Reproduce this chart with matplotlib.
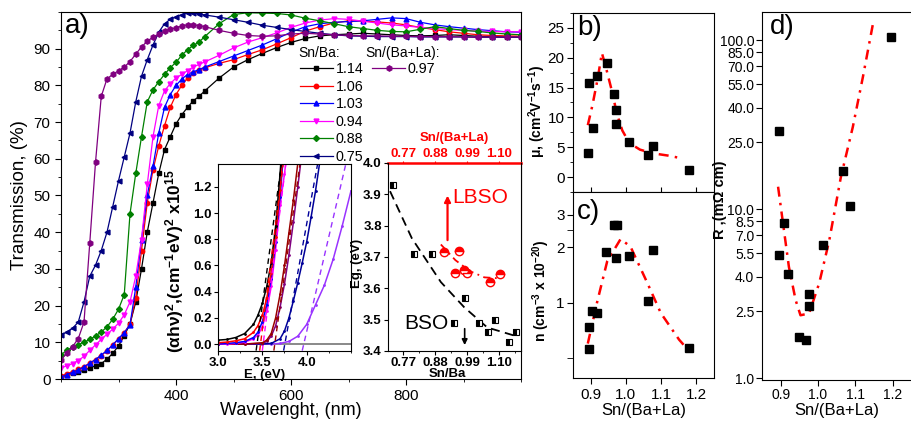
import matplotlib
matplotlib.use("Agg")
import matplotlib.pyplot as plt
from matplotlib.ticker import MultipleLocator, FixedLocator, FormatStrFormatter, NullFormatter, NullLocator

plt.rcParams['font.family'] = ['Liberation Sans', 'DejaVu Sans']
plt.rcParams['mathtext.fontset'] = 'custom'
plt.rcParams['mathtext.rm'] = 'Liberation Sans'
plt.rcParams['mathtext.bf'] = 'Liberation Sans:bold'
plt.rcParams['mathtext.default'] = 'bf'

# ---------------- a) transmission spectra ----------------
wavelength = [200, 210, 220, 230, 240, 250, 260, 270, 280, 290, 300, 310, 320, 330, 340,
              350, 360, 370, 380, 390, 400, 410, 420, 430, 440, 450,
              475, 500, 525, 550, 575, 600, 625, 650, 675, 700, 725, 750, 775, 800,
              825, 850, 875, 900, 925, 950, 975, 1000]
t_114 = [0.5, 1.1, 1.6, 1.9, 2.4, 3.0, 3.6, 4.2, 5.4, 7.0, 9.0, 11.8, 15.0, 21, 30,
         40, 48, 56, 62.5, 66, 69.5, 72, 74, 75.8, 77, 78.5,
         82, 85, 87, 88.7, 90.3, 91.7, 92.8, 93.5, 93.8, 94.0, 94.2, 94.0, 93.8, 93.6,
         93.5, 93.6, 93.8, 93.6, 93.4, 93.3, 93.2, 93.2]
t_106 = [0.8, 1.4, 2.0, 2.6, 3.4, 4.3, 5.3, 6.4, 7.7, 9.3, 10.9, 12.6, 15, 22, 35,
         48, 57, 63.5, 69, 74, 77.5, 80, 82, 83.3, 84.2, 84.8,
         86, 87, 88.4, 89.7, 91.3, 93, 94.8, 96, 97, 97.6, 97.5, 97.3, 97, 96.5,
         95.8, 95.2, 94.6, 94.2, 93.8, 93.6, 93.5, 93.4]
t_103 = [0.5, 1.2, 1.8, 2.5, 3.3, 4.3, 5.3, 6.5, 7.8, 9.3, 11, 12.6, 14.8, 25, 38,
         50, 58, 67, 74, 77.5, 80, 81.7, 83, 83.7, 84.3, 85,
         86.5, 88, 89.5, 91, 92.7, 94.5, 96, 96.8, 97.2, 97.4, 97.6, 98, 98.4, 98.2,
         97.2, 96.5, 96, 95.6, 95.2, 94.9, 94.6, 94.5]
t_094 = [3.0, 3.6, 4.2, 5.0, 6.2, 7.8, 9.3, 10.8, 12.2, 13.6, 15.2, 17.5, 21, 28, 38,
         53, 66, 74.5, 78.5, 80.5, 82, 83, 84, 85, 85.7, 86.4,
         88.2, 90.2, 91.8, 93, 94.3, 95.8, 97, 97.8, 98.2, 98, 97.5, 97, 96.5, 96.2,
         95.8, 95.5, 95.2, 95, 94.8, 94.7, 94.6, 94.6]
t_088 = [6.6, 7.8, 8.7, 9.4, 10, 10.8, 11.7, 12.8, 14.2, 16.3, 19, 23, 45, 56, 66,
         75.5, 78.8, 81, 83, 84.8, 86.3, 88.2, 89.7, 90.9, 91.8, 93.3,
         96.8, 99.3, 99.8, 99.7, 99.6, 99.2, 98.3, 97.6, 96.8, 96, 95.5, 95, 94.7, 94.6,
         95.3, 96, 95.5, 95, 94.7, 94.3, 94, 93.8]
t_075 = [12, 12.8, 13.8, 15.5, 21, 28, 31, 35, 40, 47, 54, 60.5, 67, 75.5, 82.5,
         87, 91, 94.5, 96.8, 98, 98.7, 99.3, 99.8, 99.7, 99.5, 99.2,
         98.6, 97.9, 97.2, 96.4, 95.8, 95.2, 94.7, 94.2, 93.8, 93.5, 93.4, 93.3, 93.3, 93.3,
         93.2, 93.2, 93.2, 93.2, 93.1, 93.1, 93.1, 93.1]
t_097 = [5.2, 7, 8.8, 11, 15.5, 37, 59, 77, 81.8, 83, 84, 85, 86.5, 88.5, 90.5,
         92, 93.2, 94, 94.8, 95.3, 95.7, 96.2, 96.5, 96.5, 96.3, 96,
         95, 94.2, 93.6, 93.4, 93.5, 94, 94.2, 94, 93.8, 93.6, 93.5, 93.5, 93.4, 93.4,
         93.3, 93.3, 93.3, 93.2, 93.2, 93.2, 93.2, 93.2]
legend_labels = ['1.14', '1.06', '1.03', '0.94', '0.88', '0.75', '0.97']

# inset: Tauc plots
e_black = [3.0, 3.1, 3.2, 3.3, 3.4, 3.45, 3.5, 3.55, 3.6, 3.65, 3.7, 3.75]
a_black = [0.03, 0.035, 0.05, 0.08, 0.15, 0.22, 0.31, 0.44, 0.62, 0.9, 1.3, 1.8]
e_red = [3.0, 3.1, 3.2, 3.3, 3.4, 3.45, 3.5, 3.55, 3.6, 3.65, 3.7, 3.75]
a_red = [0.01, 0.015, 0.025, 0.04, 0.09, 0.14, 0.22, 0.35, 0.54, 0.82, 1.18, 1.6]
e_blue = [3.0, 3.1, 3.2, 3.3, 3.4, 3.45, 3.5, 3.55, 3.6, 3.65, 3.7, 3.75]
a_blue = [0.0, 0.005, 0.01, 0.02, 0.05, 0.09, 0.17, 0.3, 0.5, 0.78, 1.12, 1.55]
e_magenta = [3.0, 3.1, 3.2, 3.3, 3.4, 3.45, 3.5, 3.55, 3.6, 3.65, 3.7, 3.75, 3.8]
a_magenta = [0.0, 0.0, 0.005, 0.015, 0.04, 0.07, 0.13, 0.25, 0.44, 0.72, 1.06, 1.3, 1.6]
e_brown = [3.0, 3.3, 3.5, 3.55, 3.6, 3.65, 3.7, 3.75, 3.8, 3.85, 3.9, 3.95]
a_brown = [0.0, 0.0, 0.01, 0.03, 0.08, 0.2, 0.38, 0.6, 0.85, 1.1, 1.38, 1.65]
e_purple = [3.0, 3.3, 3.5, 3.55, 3.6, 3.65, 3.7, 3.75, 3.8, 3.85, 3.9, 3.95]
a_purple = [0.0, 0.0, 0.005, 0.02, 0.06, 0.14, 0.28, 0.46, 0.68, 0.93, 1.2, 1.48]
e_navy = [3.0, 3.5, 3.6, 3.7, 3.75, 3.8, 3.85, 3.9, 3.95, 4.0, 4.05, 4.1, 4.15, 4.2]
a_navy = [0.0, 0.0, 0.005, 0.04, 0.1, 0.2, 0.33, 0.47, 0.62, 0.78, 0.97, 1.17, 1.4, 1.6]
e_violet = [3.0, 3.6, 3.7, 3.8, 3.9, 4.0, 4.1, 4.2, 4.3, 4.4, 4.5]
a_violet = [0.0, 0.0, 0.005, 0.02, 0.06, 0.15, 0.3, 0.45, 0.65, 0.9, 1.17]
fit_e_low = [3.43, 3.47, 3.50, 3.63, 3.74, 3.95]
fit_e_high = [3.72, 3.74, 3.77, 3.93, 4.13, 4.45]
fit_a_low, fit_a_high = -0.05, 1.4

# inset: band gap vs composition
bso_x = [0.735, 0.808, 0.871, 0.944, 0.982, 1.03, 1.062, 1.086, 1.135, 1.159]
bso_eg = [3.93, 3.71, 3.71, 3.49, 3.57, 3.49, 3.46, 3.50, 3.43, 3.46]
bso_fit_x = [0.725, 0.8, 0.9, 0.98, 1.06, 1.15]
bso_fit_eg = [3.91, 3.76, 3.62, 3.54, 3.475, 3.45]
lbso_x = [0.912, 0.964, 0.95, 0.978, 0.989, 1.069, 1.103]
lbso_eg = [3.715, 3.72, 3.65, 3.66, 3.65, 3.62, 3.645]
lbso_fit_x = [0.9, 0.95, 1.0, 1.05, 1.1]
lbso_fit_eg = [3.74, 3.69, 3.655, 3.635, 3.632]
eg_ticks = [0.77, 0.88, 0.99, 1.10]

# ---------------- b) mobility ----------------
mu_x = [0.892, 0.894, 0.907, 0.918, 0.947, 0.966, 0.972, 0.972, 1.009, 1.064, 1.077, 1.178]
mu = [4.0, 15.7, 8.2, 16.9, 19.1, 13.9, 11.2, 8.9, 5.8, 3.7, 5.2, 1.2]
mu_fit_x = [0.892, 0.905, 0.92, 0.932, 0.945, 0.96, 0.975, 0.99, 1.01, 1.04, 1.075, 1.12, 1.162]
mu_fit = [8.7, 12, 16.5, 20.8, 18, 14.5, 10.5, 7.8, 5.7, 4.6, 4.0, 3.6, 3.1]

# ---------------- c) carrier concentration ----------------
n_x = [0.894, 0.894, 0.904, 0.918, 0.945, 0.966, 0.975, 0.972, 1.009, 1.064, 1.077, 1.18]
n_val = [0.56, 0.74, 0.90, 0.88, 1.88, 2.65, 2.65, 1.75, 1.79, 1.02, 1.94, 0.57]
n_fit_x = [0.892, 0.918, 0.947, 0.985, 1.013, 1.061, 1.099, 1.151, 1.171]
n_fit = [0.6, 1.0, 1.68, 2.22, 2.02, 1.28, 0.88, 0.63, 0.57]

# ---------------- d) resistivity ----------------
r_x = [0.895, 0.895, 0.91, 0.92, 0.949, 0.967, 0.976, 0.976, 1.014, 1.068, 1.086, 1.195]
r_val = [28.9, 5.35, 8.3, 4.12, 1.75, 1.69, 3.17, 2.67, 6.18, 16.9, 10.5, 104.6]
r_fit_x = [0.893, 0.922, 0.94, 0.953, 0.976, 1.003, 1.03, 1.061, 1.093, 1.12, 1.147]
r_fit = [13.6, 4.56, 2.9, 2.36, 2.42, 3.65, 6.55, 15.5, 30.7, 60.7, 125.6]
r_ticks = [1, 2.5, 4, 5.5, 7, 8.5, 10, 25, 40, 55, 70, 85, 100]

W, H = 912, 423
fig = plt.figure(figsize=(W / 100, H / 100), dpi=100)


def box(left, top, right, bottom):
    return [left / W, 1 - bottom / H, (right - left) / W, (bottom - top) / H]


dashdot = (0, (4, 2.5, 1, 2.5))

# ---- main panel ----
ax = fig.add_axes(box(61, 12, 521, 379))
styles = [(t_114, 'black', 's', 3), (t_106, 'red', 'o', 3.2), (t_103, 'blue', '^', 3.5),
          (t_094, 'magenta', 'v', 3.5), (t_088, 'green', 'D', 3), (t_075, 'navy', '<', 3.5),
          (t_097, 'purple', 'h', 3.8)]
handles = []
for (vals, col, mk, ms), lab in zip(styles, legend_labels):
    h, = ax.plot(wavelength, vals, color=col, marker=mk, ms=ms, lw=0.9, label=lab)
    handles.append(h)
ax.set_xlim(200, 1000)
ax.set_ylim(0, 100)
ax.xaxis.set_major_locator(FixedLocator([400, 600, 800]))
ax.xaxis.set_minor_locator(MultipleLocator(100))
ax.yaxis.set_major_locator(FixedLocator(list(range(0, 100, 10))))
ax.yaxis.set_minor_locator(MultipleLocator(5))
ax.tick_params(which='both', direction='out', labelsize=11)
ax.tick_params(which='major', length=4)
ax.tick_params(which='minor', length=2.5)
ax.set_xlabel('Wavelenght, (nm)', fontsize=13, va='center')
ax.xaxis.set_label_coords(0.5, -0.085)
ax.set_ylabel('Transmission, (%)', fontsize=13.5, va='center')
ax.yaxis.set_label_coords(-0.091, 0.5)
ax.text(0.008, 0.962, 'a)', transform=ax.transAxes, fontsize=20, va='center', ha='left')

blank = plt.Line2D([], [], linestyle='none')
leg = ax.legend(handles=handles[:6] + [handles[6]] + [blank] * 5,
                labels=legend_labels[:6] + [legend_labels[6]] + [''] * 5,
                ncol=2, loc='upper left', bbox_to_anchor=(300 / W, 1 - 62 / H),
                bbox_transform=fig.transFigure, frameon=False, fontsize=10.3,
                borderpad=0, borderaxespad=0, handlelength=2.3, handletextpad=0.2,
                labelspacing=0.25, columnspacing=0.6)
fig.text(298 / W, 1 - 53 / H, 'Sn/Ba:', fontsize=10, va='center', ha='left')
fig.text(365 / W, 1 - 53 / H, 'Sn/(Ba+La):', fontsize=10, va='center', ha='left')

# ---- inset 1: Tauc ----
ax1 = fig.add_axes(box(218, 164, 351, 351))
ax1.axhline(0, color='gray', lw=1.3)
tauc = [(e_violet, a_violet, '#9933ff'), (e_navy, a_navy, '#000099'),
        (e_purple, a_purple, '#800080'), (e_brown, a_brown, '#990000'),
        (e_magenta, a_magenta, '#ff00ff'), (e_blue, a_blue, '#0000ff'),
        (e_red, a_red, '#ff0000'), (e_black, a_black, '#000000')]
for e, a, col in tauc:
    ax1.plot(e, a, color=col, lw=1.1, marker='.', ms=2)
fit_cols = ['black', 'red', '#ff00ff', '#990000', '#000099', '#9933ff']
for lo, hi, col in zip(fit_e_low, fit_e_high, fit_cols):
    ax1.plot([lo, hi], [fit_a_low, fit_a_high], color=col, lw=1.0, ls=(0, (4, 3)))
ax1.set_xlim(3.0, 4.5)
ax1.set_ylim(-0.053, 1.375)
ax1.xaxis.set_major_locator(FixedLocator([3.0, 3.5, 4.0]))
ax1.xaxis.set_minor_locator(MultipleLocator(0.25))
ax1.yaxis.set_major_locator(MultipleLocator(0.2))
ax1.xaxis.set_major_formatter(FormatStrFormatter('%.1f'))
ax1.yaxis.set_major_formatter(FormatStrFormatter('%.1f'))
ax1.tick_params(which='both', direction='out', labelsize=9.5, pad=1.5)
ax1.tick_params(which='major', length=3)
ax1.tick_params(which='minor', length=1.5)
for lab in ax1.get_xticklabels() + ax1.get_yticklabels():
    lab.set_fontweight('bold')
ax1.set_xlabel('E, (eV)', fontsize=9.5, fontweight='bold', va='center')
ax1.xaxis.set_label_coords(0.353, -0.128)
ax1.set_ylabel('(αhν)$^{2}$,(cm$^{-1}$eV)$^{2}$ x10$^{15}$', fontsize=12.5,
               fontweight='bold', va='center')
ax1.yaxis.set_label_coords(-0.33, 0.48)

# ---- inset 2: Eg ----
ax2 = fig.add_axes(box(388, 163, 521, 351))
ax2.plot(bso_fit_x, bso_fit_eg, color='black', lw=1.3, ls=(0, (5, 3)))
ax2.plot(lbso_fit_x, lbso_fit_eg, color='red', lw=1.3, ls=dashdot)
ax2.plot(bso_x, bso_eg, ls='none', marker='s', ms=5, color='black', mec='black',
         fillstyle='left', markerfacecoloralt='white', mew=0.8)
ax2.plot(lbso_x, lbso_eg, ls='none', marker='o', ms=6, color='red', mec='red',
         fillstyle='top', markerfacecoloralt='white', mew=1.0)
ax2.annotate('', xy=(0.923, 3.905), xytext=(0.923, 3.745),
             arrowprops=dict(arrowstyle='-|>', color='red', lw=1.6, mutation_scale=9))
ax2.annotate('', xy=(0.982, 3.41), xytext=(0.982, 3.48),
             arrowprops=dict(arrowstyle='-|>', color='black', lw=1.2, mutation_scale=8))
ax2.text(1.037, 3.891, 'LBSO', color='red', fontsize=15, ha='center', va='center')
ax2.text(0.85, 3.489, 'BSO', color='black', fontsize=15, ha='center', va='center')
ax2.set_xlim(0.718, 1.176)
ax2.set_ylim(3.4, 4.0)
ax2.xaxis.set_major_locator(FixedLocator(eg_ticks))
ax2.xaxis.set_minor_locator(FixedLocator([0.825, 0.935, 1.045, 1.155]))
ax2.xaxis.set_major_formatter(FormatStrFormatter('%.2f'))
ax2.yaxis.set_major_locator(MultipleLocator(0.1))
ax2.yaxis.set_major_formatter(FormatStrFormatter('%.1f'))
ax2.tick_params(which='both', direction='out', labelsize=9.5, pad=1.5)
ax2.tick_params(which='major', length=3)
ax2.tick_params(which='minor', length=1.5)
for lab in ax2.get_xticklabels() + ax2.get_yticklabels():
    lab.set_fontweight('bold')
ax2.set_xlabel('Sn/Ba', fontsize=9.5, fontweight='bold', va='center')
ax2.xaxis.set_label_coords(0.444, -0.12)
ax2.set_ylabel('Eg, (eV)', fontsize=9.5, fontweight='bold', va='center')
ax2.yaxis.set_label_coords(-0.235, 0.468)
ax2.spines['top'].set_visible(False)
sec = ax2.secondary_xaxis('top')
sec.xaxis.set_major_locator(FixedLocator(eg_ticks))
sec.xaxis.set_minor_locator(NullLocator())
sec.xaxis.set_major_formatter(FormatStrFormatter('%.2f'))
sec.tick_params(colors='red', labelsize=9.5, length=1.5, pad=0.3, direction='out')
sec.spines['top'].set_color('red')
sec.spines['top'].set_linewidth(1.8)
for lab in sec.get_xticklabels():
    lab.set_fontweight('bold')
ax2.text(0.5, 1.135, 'Sn/(Ba+La)', transform=ax2.transAxes, color='red', fontsize=9.5,
         fontweight='bold', ha='center', va='center')

# ---- panel b ----
axb = fig.add_axes(box(573, 13, 714, 192))
axb.plot(mu_fit_x, mu_fit, color='red', lw=1.8, ls=dashdot)
axb.plot(mu_x, mu, ls='none', marker='s', ms=6, color='black')
axb.set_xlim(0.85, 1.25)
axb.set_ylim(-2.5, 27.5)
axb.xaxis.set_major_locator(FixedLocator([0.9, 1.0, 1.1, 1.2]))
axb.yaxis.set_major_locator(MultipleLocator(5))
axb.yaxis.set_minor_locator(MultipleLocator(2.5))
axb.tick_params(axis='x', direction='inout', length=7, labelbottom=False)
axb.tick_params(axis='y', which='both', direction='out', labelsize=11, pad=2)
axb.tick_params(axis='y', which='major', length=4)
axb.tick_params(axis='y', which='minor', length=2.5)
axb.set_ylabel('μ, (cm$^{2}$V$^{-1}$s$^{-1}$)', fontsize=10, fontweight='bold', va='center')
axb.yaxis.set_label_coords(-0.255, 0.45)
axb.text(0.028, 0.916, 'b)', transform=axb.transAxes, fontsize=20, va='center', ha='left')

# ---- panel c ----
axc = fig.add_axes(box(573, 192, 714, 378))
axc.plot(n_fit_x, n_fit, color='red', lw=1.8, ls=dashdot)
axc.plot(n_x, n_val, ls='none', marker='s', ms=6, color='black')
axc.set_yscale('log')
axc.set_xlim(0.85, 1.25)
axc.set_ylim(0.39, 4.0)
axc.xaxis.set_major_locator(FixedLocator([0.9, 1.0, 1.1, 1.2]))
axc.xaxis.set_major_formatter(FormatStrFormatter('%.1f'))
axc.yaxis.set_major_locator(FixedLocator([1, 2, 3]))
axc.yaxis.set_major_formatter(FormatStrFormatter('%g'))
axc.yaxis.set_minor_locator(FixedLocator([0.5, 2.5]))
axc.yaxis.set_minor_formatter(NullFormatter())
axc.tick_params(which='both', direction='out', labelsize=11, length=4)
axc.tick_params(axis='y', pad=2)
axc.tick_params(axis='x', top=False)
axc.set_xlabel('Sn/(Ba+La)', fontsize=12, va='center')
axc.xaxis.set_label_coords(0.5, -0.177)
axc.set_ylabel('n (cm$^{-3}$ x 10$^{-20}$)', fontsize=10, fontweight='bold', va='center')
axc.yaxis.set_label_coords(-0.225, 0.47)
axc.text(0.028, 0.892, 'c)', transform=axc.transAxes, fontsize=20, va='center', ha='left')

# ---- panel d ----
axd = fig.add_axes(box(762, 12, 911.5, 380))
axd.plot(r_fit_x, r_fit, color='red', lw=1.8, ls=dashdot)
axd.plot(r_x, r_val, ls='none', marker='s', ms=6, color='black')
axd.set_yscale('log')
axd.set_xlim(0.85, 1.25)
axd.set_ylim(0.977, 147)
axd.xaxis.set_major_locator(FixedLocator([0.9, 1.0, 1.1, 1.2]))
axd.xaxis.set_major_formatter(FormatStrFormatter('%.1f'))
axd.yaxis.set_major_locator(FixedLocator(r_ticks))
axd.yaxis.set_major_formatter(FormatStrFormatter('%.1f'))
axd.yaxis.set_minor_locator(NullLocator())
axd.tick_params(which='both', direction='out', labelsize=10, length=4, pad=1.5)
axd.spines['right'].set_visible(False)
axd.set_xlabel('Sn/(Ba+La)', fontsize=12, va='center')
axd.xaxis.set_label_coords(0.5, -0.084)
axd.set_ylabel('R ,(mΩ cm)', fontsize=10.5, fontweight='bold', va='center')
axd.yaxis.set_label_coords(-0.28, 0.489)
axd.text(0.054, 0.959, 'd)', transform=axd.transAxes, fontsize=20, va='center', ha='left')

fig.savefig('out.png', dpi=100)
